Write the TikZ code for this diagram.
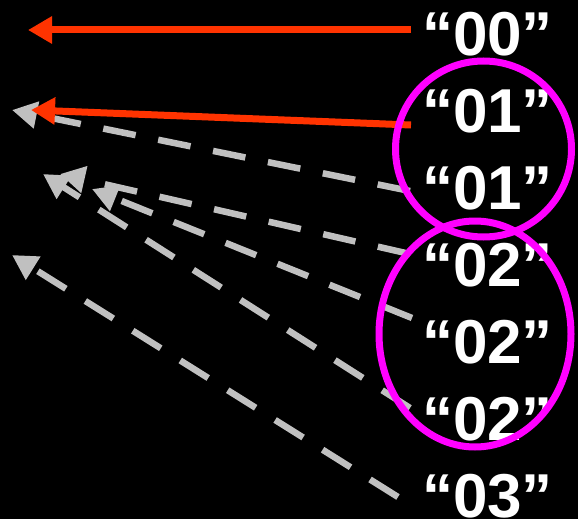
\documentclass[tikz,border=0pt]{standalone}
\usepackage{fontspec}
\setmainfont{Liberation Sans}
\usetikzlibrary{arrows.meta}
\definecolor{redarrow}{HTML}{FF3300}
\definecolor{grayarrow}{HTML}{C0C0C0}
\definecolor{ringcol}{HTML}{FF00FF}
\tikzset{
  lbl/.style={text=white, inner sep=0pt, font=\fontsize{62}{62}\selectfont\bfseries, anchor=center},
  redline/.style={draw=redarrow, line width=7pt, -{Triangle[length=24pt,width=26pt]}},
  grayline/.style={draw=grayarrow, line width=6.5pt, dash pattern=on 33pt off 23pt, -{Triangle[length=25pt,width=26pt]}},
  ring/.style={draw=ringcol, line width=7pt}
}
\begin{document}
\begin{tikzpicture}[x=1pt,y=-1pt]
\fill[black] (0,0) rectangle (578,519);
\useasboundingbox (0,0) rectangle (578,519);
% start and tip coordinates
\coordinate (r0s) at (411,30);  \coordinate (r0e) at (28,30);
\coordinate (r1s) at (411,125); \coordinate (r1e) at (31,110);
\coordinate (g1s) at (410,191); \coordinate (g1e) at (12,110);
\coordinate (g2s) at (410,254); \coordinate (g2e) at (60,174);
\coordinate (g3s) at (412,318); \coordinate (g3e) at (92,189);
\coordinate (g4s) at (410,408); \coordinate (g4e) at (43,174);
\coordinate (g5s) at (398,497); \coordinate (g5e) at (12,255);
% gray dashed arrows
\draw[grayline] (g1s) -- (g1e);
\draw[grayline] (g2s) -- (g2e);
\draw[grayline] (g3s) -- (g3e);
\draw[grayline] (g4s) -- (g4e);
\draw[grayline] (g5s) -- (g5e);
% red arrows
\draw[redline] (r0s) -- (r0e);
\draw[redline] (r1s) -- (r1e);
% labels
\node[lbl] (t0) at (487.5,34)  {“00”};
\node[lbl] (t1) at (487.5,111) {“01”};
\node[lbl] (t2) at (487.5,188) {“01”};
\node[lbl] (t3) at (487.5,265) {“02”};
\node[lbl] (t4) at (487.5,342) {“02”};
\node[lbl] (t5) at (487.5,419) {“02”};
\node[lbl] (t6) at (487.5,496) {“03”};
% rings
\draw[ring] (483.5,149) ellipse [x radius=88, y radius=88];
\draw[ring] (475,334) ellipse [x radius=96, y radius=113];
\end{tikzpicture}
\end{document}
